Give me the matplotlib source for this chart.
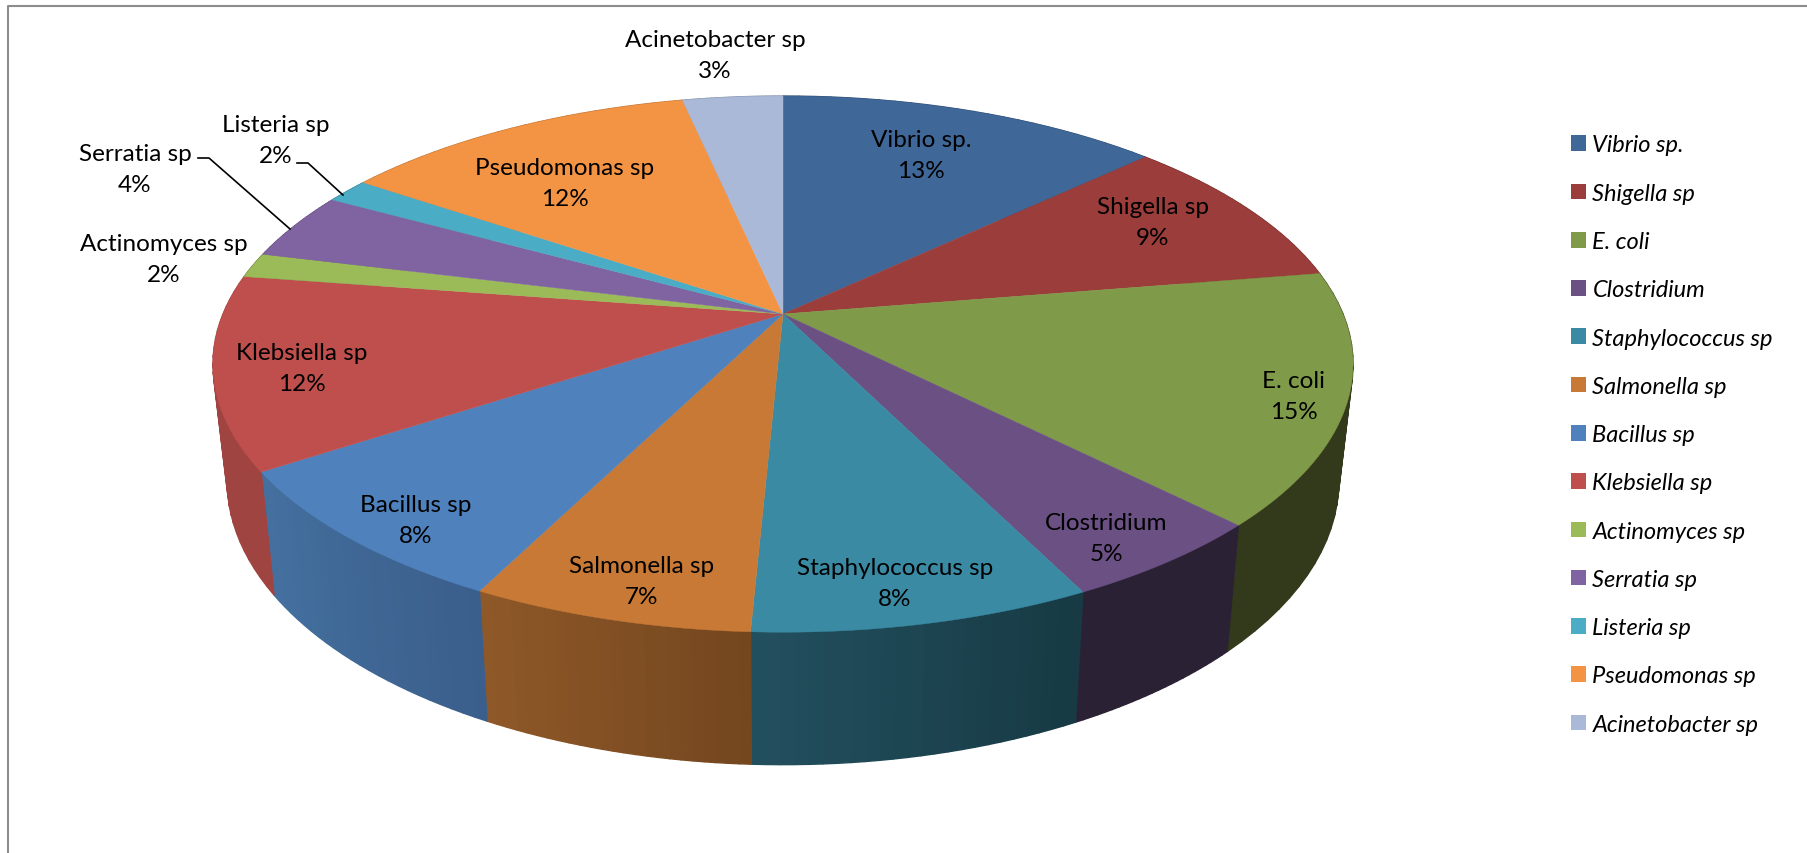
"""3D-look pie of isolate shares, drawn in pixel coordinates of the reference."""
import matplotlib
matplotlib.use("Agg")
import matplotlib.pyplot as plt
from matplotlib.colors import to_rgb
from matplotlib.patches import Patch
import numpy as np

plt.rcParams["font.family"] = ["Lato", "DejaVu Sans"]

# slice sizes (the printed labels are rounded)
names = ["Vibrio sp.", "Shigella sp", "E. coli", "Clostridium", "Staphylococcus sp",
         "Salmonella sp", "Bacillus sp", "Klebsiella sp", "Actinomyces sp",
         "Serratia sp", "Listeria sp", "Pseudomonas sp", "Acinetobacter sp"]
values = [13.0, 9.4, 15.1, 5.1, 8.1, 6.7, 8.3, 11.6, 1.5, 4.1, 1.5, 12.1, 3.4]
pct_labels = [13, 9, 15, 5, 8, 7, 8, 12, 2, 4, 2, 12, 3]

top_colors = ["#3f6797", "#9a3d3b", "#7f9a48", "#6a5083", "#3a8aa3", "#c77935", "#4f81bd",
              "#bf4f4d", "#9bbb59", "#8064a2", "#4bacc6", "#f39444", "#aab9d8"]
# wall shading runs clockwise, so start is the right end of each front slice
wall_start = ["#2f4d71", "#732e2c", "#33391b", "#2b2135", "#173a44", "#74471f", "#3b5f8c",
              "#a04442", "#748c43", "#604b79", "#388194", "#b66f33", "#7f8aa2"]
wall_end = ["#2f4d71", "#732e2c", "#33391b", "#2b2135", "#224f5e", "#8f5828", "#44709f",
            "#a04442", "#748c43", "#604b79", "#388194", "#b66f33", "#7f8aa2"]

label_xy = [(921, 156), (1153, 223), (1294, 397), (1106, 539), (895, 584), (642, 582),
            (416, 521), (302, 369), (164, 260), (135, 170), (276, 141), (565, 184), (715, 56)]

CX, CY = 783, 315      # apex of the pie
A, B, K = 560.0, 258.7, 0.187   # perspective of the top face
WALL_SX, WALL_SY, WALL_DY = 0.975, 1.058, 114


def project(frac):
    t = 2 * np.pi * np.asarray(frac)
    x, y = np.sin(t), np.cos(t)
    w = 1 + K * y
    return CX + A * x / w, CY - B * y / w


def project_bottom(frac):
    x, y = project(frac)
    return CX + WALL_SX * (x - CX), CY + WALL_SY * (y - CY) + WALL_DY


fig = plt.figure(figsize=(18.08, 8.54), dpi=100)
ax = fig.add_axes([0, 0, 1, 1])
ax.set_xlim(0, 1808)
ax.set_ylim(854, 0)
ax.axis("off")

# chart frame: only left and top show in the crop
ax.plot([8, 8, 1808], [854, 7, 7], color="#8c8c8c", lw=1.5)

edges = np.concatenate([[0], np.cumsum(values)]) / np.sum(values)

# side wall first, the top face covers its back half
for i in range(len(values)):
    fr = np.linspace(edges[i], edges[i + 1], 25)
    xt, yt = project(fr)
    xb, yb = project_bottom(fr)
    c0, c1 = np.array(to_rgb(wall_start[i])), np.array(to_rgb(wall_end[i]))
    for j in range(len(fr) - 1):
        col = c0 + (c1 - c0) * j / (len(fr) - 2)
        ax.fill([xt[j], xt[j + 1], xb[j + 1], xb[j]], [yt[j], yt[j + 1], yb[j + 1], yb[j]],
                color=col, lw=1.0, zorder=2)

for i in range(len(values)):
    fr = np.linspace(edges[i], edges[i + 1], 80)
    xt, yt = project(fr)
    ax.fill(np.r_[CX, xt], np.r_[CY, yt], color=top_colors[i], lw=0.3, zorder=3)

for name, pct, (x, y) in zip(names, pct_labels, label_xy):
    ax.text(x, y, f"{name}\n{pct}%", ha="center", va="center", fontsize=17.5,
            linespacing=1.56, color="black", zorder=5)

# leader lines for the two thin slices
ax.plot([198, 209, 290], [159, 159, 230], color="black", lw=1.2, zorder=4)
ax.plot([297, 308, 343], [164, 164, 196], color="black", lw=1.2, zorder=4)

handles = [Patch(facecolor=c, edgecolor="none") for c in top_colors]
ax.legend(handles, names, loc="upper left", bbox_to_anchor=(1571, 135.5), bbox_transform=ax.transData,
          frameon=False, prop={"style": "italic", "size": 17}, handlelength=0.64, handleheight=0.64,
          handletextpad=0.27, labelspacing=1.155, borderpad=0, borderaxespad=0)

plt.savefig("out.png", dpi=100)
plt.close()
